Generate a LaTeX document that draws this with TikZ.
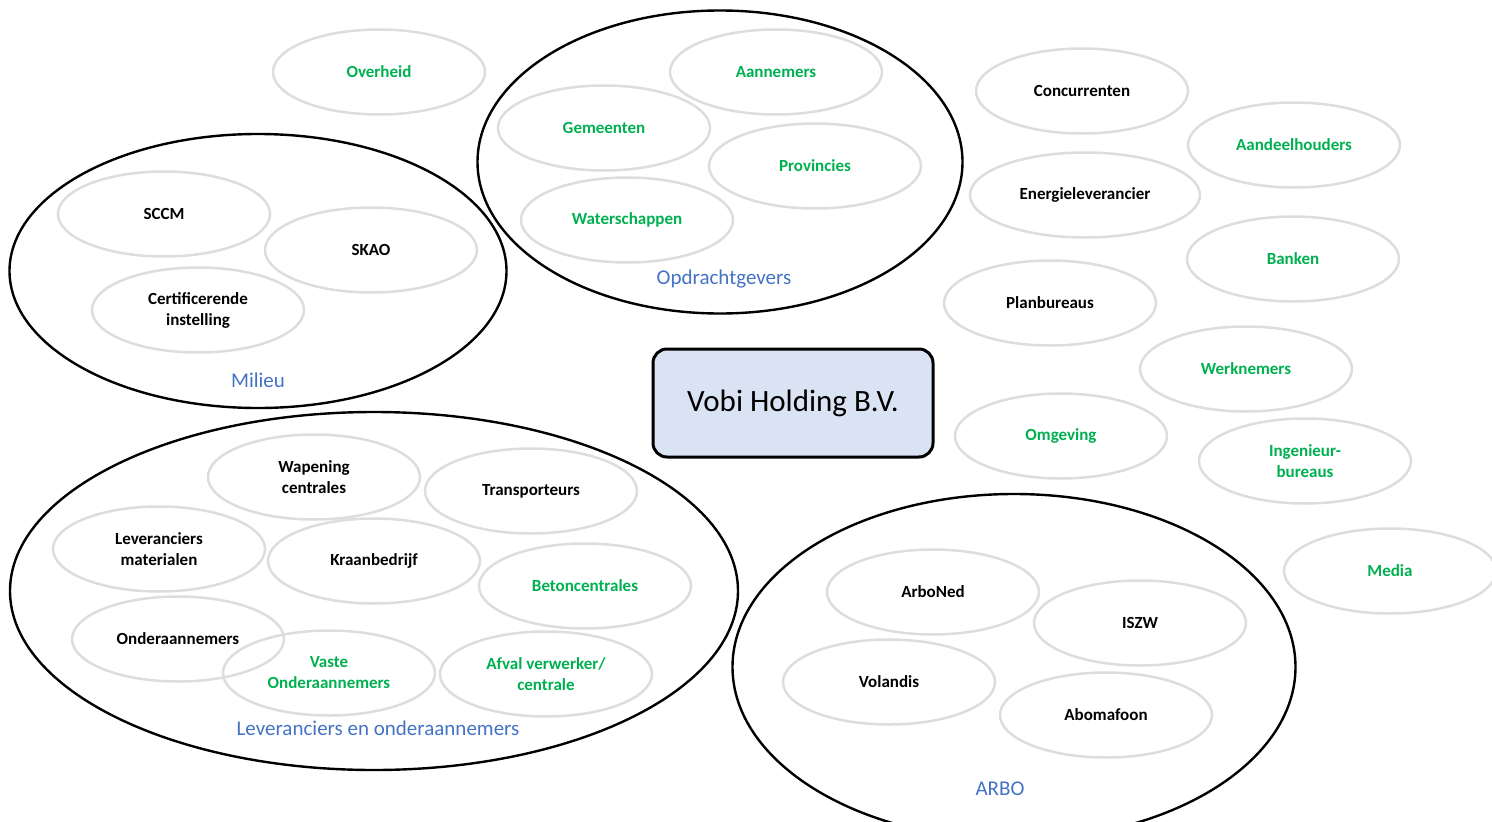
\documentclass[tikz,border=0pt]{standalone}
\usepackage{fontspec}
\setmainfont{Carlito}
\usetikzlibrary{shapes.geometric}
\definecolor{groen}{HTML}{00B050}
\definecolor{blauw}{HTML}{4472C4}
\definecolor{grijs}{HTML}{DDDDDD}
\definecolor{vulblauw}{HTML}{DAE3F3}
\tikzset{
  partij/.style={ellipse, draw=grijs, line width=2.5pt, minimum width=212pt,
    minimum height=85pt, inner sep=0pt, align=center,
    font=\fontsize{17}{21}\selectfont\bfseries},
  grn/.style={text=groen},
  groep/.style={ellipse, draw=black, line width=2.4pt, inner sep=0pt},
  groeplabel/.style={text=blauw, font=\fontsize{21}{25}\selectfont},
  bedrijf/.style={rectangle, rounded corners=14pt, draw=black, line width=3pt,
    fill=vulblauw, minimum width=280pt, minimum height=108pt,
    font=\fontsize{31}{36}\selectfont},
}

\begin{document}
\begin{tikzpicture}[x=1pt,y=-1pt]
	\useasboundingbox (0,0) rectangle (1492,822);
	\clip (0,0) rectangle (1492,822);
	% groepen
	\node[groep, minimum width=485pt, minimum height=303pt] (opdr) at (720,162) {};
	\node[groep, minimum width=497pt, minimum height=274pt] (milieu) at (258,271) {};
	\node[groep, minimum width=728pt, minimum height=358pt] (lev) at (374,591) {};
	\node[groep, minimum width=563pt, minimum height=346pt] (arbo) at (1014,667) {};
	\node[groeplabel] (opdrlabel) at (724,279) {Opdrachtgevers};
	\node[groeplabel] (milieulabel) at (258,380) {Milieu};
	\node[groeplabel] (levlabel) at (378,728) {Leveranciers en onderaannemers};
	\node[groeplabel] (arbolabel) at (1000,789) {ARBO};
	% bedrijf
	\node[bedrijf] (vobi) at (793,403) {Vobi Holding B.V.};
	% opdrachtgevers
	\node[partij, grn] (overheid) at (379,72) {Overheid};
	\node[partij, grn] (aannemers) at (776,72) {Aannemers};
	\node[partij, grn] (gemeenten) at (604,128) {Gemeenten};
	\node[partij, grn] (provincies) at (815,166) {Provincies};
	\node[partij, grn] (waterschappen) at (627,220) {Waterschappen};
	% milieu
	\node[partij] (sccm) at (164,214) {SCCM};
	\node[partij] (skao) at (371,250) {SKAO};
	\node[partij] (cert) at (198,310) {Certificerende\\instelling};
	% leveranciers en onderaannemers
	\node[partij] (wapening) at (314,477) {Wapening\\centrales};
	\node[partij] (transport) at (531,491) {Transporteurs};
	\node[partij] (levmat) at (159,549) {Leveranciers\\materialen};
	\node[partij] (kraan) at (374,561) {Kraanbedrijf};
	\node[partij, grn] (beton) at (585,586) {Betoncentrales};
	\node[partij] (onder) at (178,639) {Onderaannemers};
	\node[partij, grn] (vaste) at (329,673) {Vaste\\Onderaannemers};
	\node[partij, grn] (afval) at (546,674) {Afval verwerker/\\centrale};
	% arbo
	\node[partij] (arboned) at (933,592) {ArboNed};
	\node[partij] (iszw) at (1140,623) {ISZW};
	\node[partij] (volandis) at (889,682) {Volandis};
	\node[partij] (abomafoon) at (1106,715) {Abomafoon};
	% overige partijen
	\node[partij] (concurrenten) at (1082,91) {Concurrenten};
	\node[partij, grn] (aandeel) at (1294,145) {Aandeelhouders};
	\node[partij, minimum width=230pt] (energie) at (1085,195) {Energieleverancier};
	\node[partij, grn] (banken) at (1293,259) {Banken};
	\node[partij] (plan) at (1050,303) {Planbureaus};
	\node[partij, grn] (werknemers) at (1246,369) {Werknemers};
	\node[partij, grn] (omgeving) at (1061,436) {Omgeving};
	\node[partij, grn] (ingenieur) at (1305,461) {Ingenieur-\\bureaus};
	\node[partij, grn] (media) at (1390,571) {Media};
\end{tikzpicture}
\end{document}
